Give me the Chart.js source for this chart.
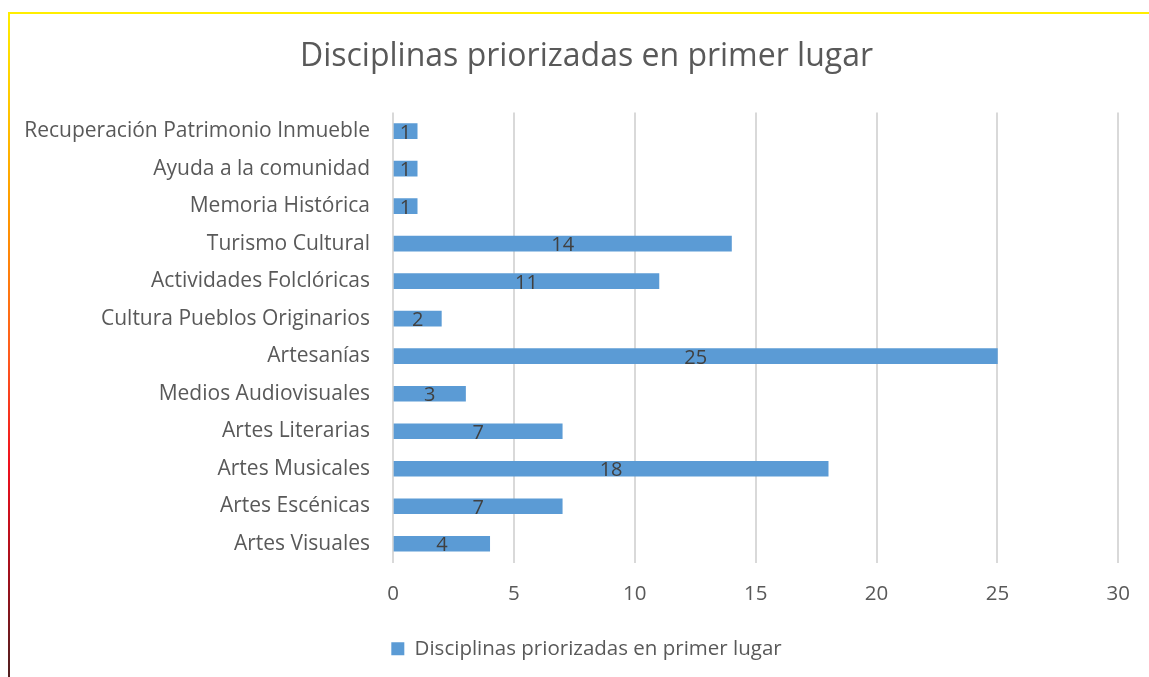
<!DOCTYPE html>
<html>
<head>
<meta charset="utf-8">
<script src="https://cdn.jsdelivr.net/npm/chart.js@4.4.1/dist/chart.umd.min.js"></script>
<style>
  html, body { margin: 0; padding: 0; background: #fff; }
  #frameTop { position: absolute; left: 8px; top: 12px; width: 1141px; height: 2px; background: #ffee00; }
  #frameLeft { position: absolute; left: 8px; top: 12px; width: 2px; height: 665px;
    background: linear-gradient(to bottom, #ffee00 0%, #ff9900 30%, #ff5a1e 52%, #f0101e 68%, #a0101c 85%, #502020 100%); }
  #wrap { position: absolute; left: 10px; top: 14px; width: 1139px; height: 663px; }
</style>
</head>
<body>
<div id="frameTop"></div>
<div id="frameLeft"></div>
<div id="wrap"><canvas id="disciplinasChart"></canvas></div>
<script>
// Disciplinas priorizadas en primer lugar - horizontal bar chart

const categories = [
  'Recuperación Patrimonio Inmueble',
  'Ayuda a la comunidad',
  'Memoria Histórica',
  'Turismo Cultural',
  'Actividades Folclóricas',
  'Cultura Pueblos Originarios',
  'Artesanías',
  'Medios Audiovisuales',
  'Artes Literarias',
  'Artes Musicales',
  'Artes Escénicas',
  'Artes Visuales'
];
const counts = [1, 1, 1, 14, 11, 2, 25, 3, 7, 18, 7, 4];
const seriesName = 'Disciplinas priorizadas en primer lugar';

const textGray = '#595959';
const fontFamily = '"Open Sans", sans-serif';

// value labels centered on each bar
const barLabels = {
  id: 'barLabels',
  afterDatasetsDraw(chart) {
    const { ctx } = chart;
    const meta = chart.getDatasetMeta(0);
    ctx.save();
    ctx.font = '20px ' + fontFamily;
    ctx.fillStyle = '#404040';
    ctx.textAlign = 'center';
    ctx.textBaseline = 'middle';
    meta.data.forEach((bar, i) => {
      const cx = (bar.x + bar.base) / 2;
      ctx.fillText(String(counts[i]), cx, bar.y + 2);
    });
    ctx.restore();
  }
};

// title and legend sit a bit right of the canvas centre in the original
const shiftBlocks = {
  id: 'shiftBlocks',
  afterLayout(chart) {
    [chart.titleBlock, chart.legend].forEach(b => {
      if (b) { b.left += 22; b.right += 22; }
    });
  }
};

const ctx = document.getElementById('disciplinasChart').getContext('2d');

const chart = new Chart(ctx, {
  type: 'bar',
  data: {
    labels: categories,
    datasets: [{
      label: seriesName,
      data: counts,
      backgroundColor: '#5b9bd5',
      borderWidth: 0,
      barThickness: 15
    }]
  },
  options: {
    indexAxis: 'y',
    responsive: true,
    maintainAspectRatio: false,
    animation: false,
    layout: { padding: { left: 0, right: 30, top: 0, bottom: 8 } },
    plugins: {
      title: {
        display: true,
        text: seriesName,
        color: textGray,
        font: { family: fontFamily, size: 32, weight: 'normal' },
        padding: { top: 24, bottom: 36 }
      },
      legend: {
        position: 'bottom',
        labels: {
          color: textGray,
          font: { family: fontFamily, size: 20.5 },
          boxWidth: 13,
          boxHeight: 13
        }
      },
      tooltip: { enabled: false }
    },
    scales: {
      x: {
        min: 0,
        max: 30,
        ticks: {
          stepSize: 5,
          color: textGray,
          font: { family: fontFamily, size: 20.5 },
          padding: 19
        },
        grid: { color: '#d9d9d9', lineWidth: 2, drawTicks: false },
        border: { display: false },
        afterFit(scale) { scale.height = 66; }
      },
      y: {
        ticks: {
          color: textGray,
          font: { family: fontFamily, size: 21 },
          padding: 23,
          autoSkip: false
        },
        grid: { display: false, drawTicks: false },
        border: { display: false },
        afterFit(scale) { scale.width = 383; }
      }
    }
  },
  plugins: [barLabels, shiftBlocks]
});
</script>
</body>
</html>
